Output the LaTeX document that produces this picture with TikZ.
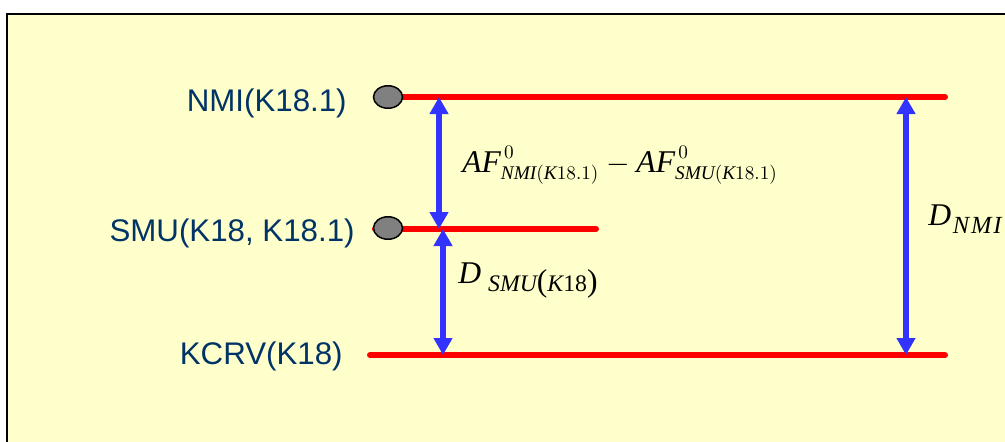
\documentclass[tikz,border=0pt]{standalone}
\usepackage{fontspec}
\setmainfont{Liberation Serif}
\newfontfamily\lblfont{Liberation Sans}
\usetikzlibrary{arrows.meta,shapes.geometric}
\DeclareMathSizes{18}{18}{11}{8.5}
\newcommand{\subsz}{\fontsize{13.5}{16}\selectfont}
\newcommand{\bigsz}{\fontsize{18}{20}\selectfont}

\begin{document}
\begin{tikzpicture}[x=0.02cm, y=-0.02cm]

\definecolor{panelcolor}{RGB}{255,255,204}
\definecolor{levelcolor}{RGB}{255,0,0}
\definecolor{gapcolor}{RGB}{51,51,255}
\definecolor{labelcolor}{RGB}{0,51,102}
\definecolor{blobcolor}{RGB}{128,128,128}

\tikzset{
  level/.style={levelcolor, line width=0.12cm, line cap=round},
  gap/.style={gapcolor, line width=0.12cm,
    {Triangle[length=0.34cm,width=0.36cm]}-{Triangle[length=0.34cm,width=0.36cm]}},
  lab/.style={labelcolor, font=\lblfont\fontsize{17.8}{21}\selectfont,
    anchor=base east, inner sep=0pt},
  formula/.style={font=\fontsize{18}{22}\selectfont, anchor=base west, inner sep=0pt},
  blob/.style={ellipse, draw=black, line width=0.03cm, fill=blobcolor,
    minimum width=0.58cm, minimum height=0.45cm, inner sep=0pt}
}

\clip (0,0) rectangle (1005,441);
\draw[fill=panelcolor, line width=0.04cm] (7,14) rectangle (1030,470);

% level lines
\coordinate (nmiL) at (388,97);
\coordinate (nmiR) at (945,97);
\coordinate (smuL) at (375,229);
\coordinate (smuR) at (596,229);
\coordinate (kcrvL) at (370,355);
\coordinate (kcrvR) at (945,355);

\draw[level] (nmiL) -- (nmiR);
\draw[level] (smuL) -- (smuR);
\draw[level] (kcrvL) -- (kcrvR);

\node[blob] (nmiblob) at (388,97) {};
\node[blob] (smublob) at (388,228) {};

% labels
\node[lab] (nmilab) at (347,111) {NMI(K18.1)};
\node[lab] (smulab) at (355,241) {SMU(K18, K18.1)};
\node[lab] (kcrvlab) at (343,364) {KCRV(K18)};

% differences
\coordinate (afTop) at (439,97);
\coordinate (afBot) at (439,229);
\coordinate (dsTop) at (443,229);
\coordinate (dsBot) at (443,355);
\coordinate (dnTop) at (906,97);
\coordinate (dnBot) at (906,355);

\draw[gap] (afTop) -- (afBot);
\draw[gap] (dsTop) -- (dsBot);
\draw[gap] (dnTop) -- (dnBot);

\node[formula] (afdiff) at (462,172)
  {$\mathit{AF}^{\,0}_{\mathit{NMI}(\mathit{K}18.1)} - \mathit{AF}^{\,0}_{\mathit{SMU}(\mathit{K}18.1)}$};
\node[formula] (dsmu) at (458,283)
  {\itshape D\raisebox{-5pt}{\kern4pt\subsz\itshape SMU\upshape\bigsz(\subsz\itshape K\upshape 18\bigsz)}};
\node[formula] (dnmi) at (928,225)
  {\itshape D\raisebox{-5pt}{\kern1pt\subsz\fontsize{14}{16}\selectfont\itshape N\kern1pt M\kern1pt I}};

\end{tikzpicture}
\end{document}
